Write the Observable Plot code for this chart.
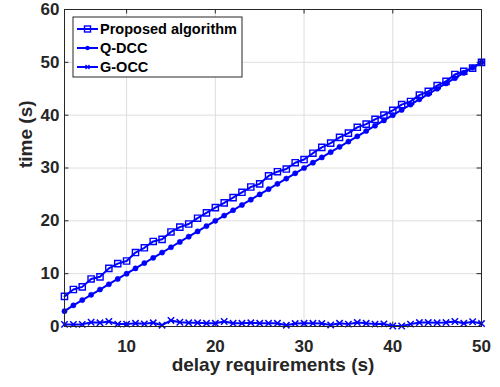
<!DOCTYPE html>
<html><head><meta charset="utf-8">
<script src="https://cdn.jsdelivr.net/npm/d3@7"></script>
<script src="https://cdn.jsdelivr.net/npm/@observablehq/plot@0.6"></script>
<style>
body{margin:0;background:#fff}
#chart{width:500px;height:387px}
</style>
</head><body><div id="chart"></div>
<script>
const delays = [3,4,5,6,7,8,9,10,11,12,13,14,15,16,17,18,19,20,21,22,23,24,25,26,27,28,29,30,31,32,33,34,35,36,37,38,39,40,41,42,43,44,45,46,47,48,49,50];
const proposed = [5.7,7.0,7.5,9.0,9.4,11.0,11.9,12.4,14.0,14.9,16.1,16.5,17.9,18.8,19.4,20.5,21.5,22.5,23.4,24.4,25.4,26.4,27.0,28.5,29.3,29.8,31.0,31.6,32.8,33.9,34.7,35.8,36.6,37.7,38.3,39.2,40.0,40.9,42.0,42.6,43.8,44.5,45.6,46.4,47.7,48.3,48.9,50.0];
const qdcc = [2.9,4,5,6,7,8,9,10,11,12,13,14,15,16,17,18,19,20,21,22,23,24,25,26,27,28,29,30,31,32,33,34,35,36,37,38,39,40,41,42,43,44,45,46,47,48,49,50];
const gocc = [0.4,0.4,0.4,0.8,0.7,0.95,0.45,0.45,0.6,0.5,0.7,0.25,1.15,0.8,0.7,0.7,0.6,0.6,0.95,0.6,0.6,0.7,0.6,0.6,0.6,0.25,0.55,0.6,0.6,0.55,0.3,0.6,0.45,0.75,0.6,0.45,0.5,0.1,0.1,0.45,0.75,0.75,0.7,0.75,0.95,0.6,0.9,0.55];
const seriesNames = ["Proposed algorithm","Q-DCC","G-OCC"];
const seriesSymbols = ["square","circle","times"];
const xTicks = [10,20,30,40,50];
const yTicks = [0,10,20,30,40,50,60];
const xLabel = "delay requirements (s)";
const yLabel = "time (s)";

const BLUE = "#0000ff";
const AX = "#262626";
const FONT = "'Liberation Sans', Arial, Helvetica, sans-serif";

const table = [];
[proposed, qdcc, gocc].forEach((vals, s) => {
  vals.forEach((v, i) => table.push({series: seriesNames[s], x: delays[i], y: v}));
});

function seriesMarks(name, symbol) {
  const d = table.filter(r => r.series === name);
  const sym = symbol === "circle"
    ? Plot.dot(d, {x: "x", y: "y", r: 2.6, fill: BLUE, stroke: BLUE, strokeWidth: 0.5})
    : symbol === "square"
      ? Plot.dot(d, {x: "x", y: "y", symbol: "square", r: 3.5, fill: "none", stroke: BLUE, strokeWidth: 1.4})
      : Plot.dot(d, {x: "x", y: "y", symbol: "times", r: 3.0, fill: "none", stroke: BLUE, strokeWidth: 1.5});
  return [Plot.line(d, {x: "x", y: "y", stroke: BLUE, strokeWidth: 2}), sym];
}

function legend(index, scales, values, dims) {
  const g = d3.create("svg:g").attr("text-anchor", "start");
  const x0 = dims.marginLeft + 9, y0 = dims.marginTop + 8;
  g.append("rect").attr("x", x0).attr("y", y0).attr("width", 169).attr("height", 60)
    .attr("fill", "#fff").attr("stroke", AX).attr("stroke-width", 1);
  seriesNames.forEach((name, i) => {
    const cy = y0 + 12 + i * 19;
    g.append("line").attr("x1", x0 + 4).attr("x2", x0 + 25).attr("y1", cy).attr("y2", cy)
      .attr("stroke", BLUE).attr("stroke-width", 2);
    const cx = x0 + 14.5;
    const s = seriesSymbols[i];
    if (s === "square") {
      g.append("rect").attr("x", cx - 3).attr("y", cy - 3).attr("width", 6).attr("height", 6)
        .attr("fill", "none").attr("stroke", BLUE).attr("stroke-width", 1.4);
    } else if (s === "circle") {
      g.append("circle").attr("cx", cx).attr("cy", cy).attr("r", 2.2).attr("fill", BLUE);
    } else {
      g.append("path").attr("d", `M${cx-2},${cy-2}L${cx+2},${cy+2}M${cx-2},${cy+2}L${cx+2},${cy-2}`)
        .attr("stroke", BLUE).attr("stroke-width", 1.3);
    }
    g.append("text").attr("x", x0 + 27).attr("y", cy).attr("dy", "0.36em")
      .attr("text-anchor", "start")
      .attr("fill", "#000").attr("font-size", 14.5).attr("font-weight", "bold")
      .attr("font-family", FONT).text(name);
  });
  return g.node();
}

const chart = Plot.plot({
  width: 500,
  height: 387,
  marginLeft: 64,
  marginRight: 19,
  marginTop: 9,
  marginBottom: 61,
  style: {fontFamily: FONT, fontSize: "17px", fontWeight: "bold", color: AX, background: "#fff"},
  x: {domain: [3, 50], ticks: xTicks},
  y: {domain: [0, 60], ticks: yTicks},
  marks: [
    Plot.gridX(xTicks, {stroke: "#dedede", strokeOpacity: 1}),
    Plot.gridY(yTicks, {stroke: "#dedede", strokeOpacity: 1}),
    Plot.ruleX(xTicks, {x: d => d, y1: 0, y2: 0.85, stroke: AX}),
    Plot.ruleX(xTicks, {x: d => d, y1: 60, y2: 59.15, stroke: AX}),
    Plot.ruleY(yTicks, {y: d => d, x1: 3, x2: 3.5, stroke: AX}),
    Plot.ruleY(yTicks, {y: d => d, x1: 50, x2: 49.5, stroke: AX}),
    Plot.axisX({ticks: xTicks, tickSize: 0, tickPadding: 13, label: null, fill: AX}),
    Plot.axisY({ticks: yTicks, tickSize: 0, tickPadding: 5, label: null, fill: AX}),
    Plot.text([xLabel], {frameAnchor: "bottom", dy: 44, text: d => d, fontSize: 19, fontWeight: "bold", fill: AX}),
    Plot.text([yLabel], {frameAnchor: "left", dx: -39, rotate: -90, text: d => d, fontSize: 19, fontWeight: "bold", fill: AX}),
    ...seriesMarks(seriesNames[1], seriesSymbols[1]),
    ...seriesMarks(seriesNames[0], seriesSymbols[0]),
    ...seriesMarks(seriesNames[2], seriesSymbols[2]),
    Plot.frame({stroke: AX, strokeWidth: 1}),
    legend
  ]
});
document.getElementById("chart").appendChild(chart);
</script>
</body></html>
